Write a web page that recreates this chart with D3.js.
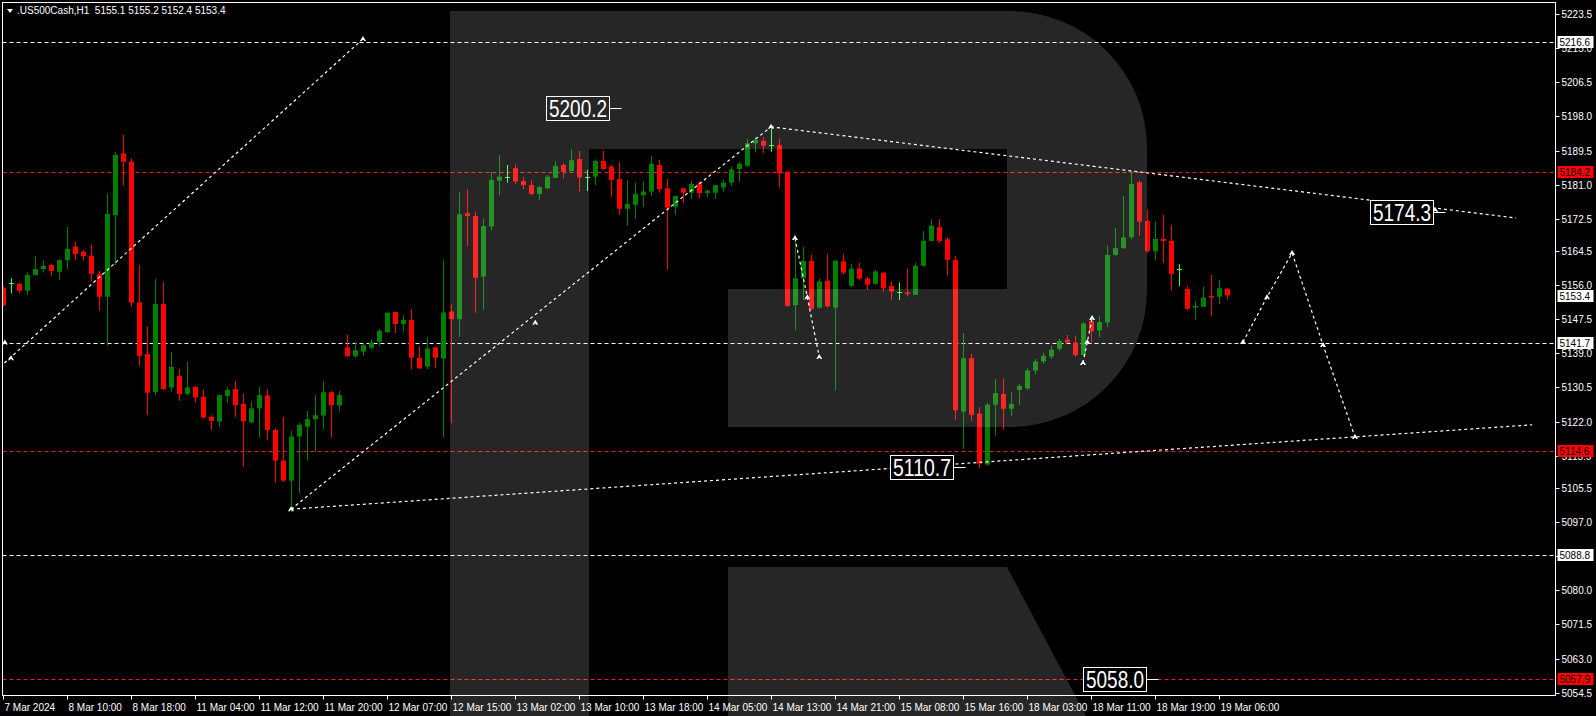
<!DOCTYPE html>
<html><head><meta charset="utf-8">
<script src="https://cdn.jsdelivr.net/npm/d3@7"></script>
<style>html,body{margin:0;padding:0;background:#000;overflow:hidden}svg{display:block}text{font-family:"Liberation Sans",Arial,sans-serif}</style>
</head><body>
<svg id="c" width="1596" height="716"></svg>
<script>
const opens=[5155.2,5156.4,5156.3,5154.6,5158.5,5160.0,5161.0,5159.3,5162.2,5165.6,5164.3,5163.3,5158.8,5153.1,5173.4,5188.8,5186.7,5151.7,5138.8,5129.4,5151.3,5130.5,5133.4,5128.9,5130.7,5128.2,5123.2,5122.0,5128.4,5130.1,5126.4,5121.8,5125.3,5128.5,5119.9,5112.3,5107.3,5118.3,5120.7,5122.6,5123.5,5129.3,5126.0,5140.5,5138.3,5139.4,5140.4,5141.9,5144.3,5149.3,5146.3,5147.3,5137.9,5135.7,5140.5,5137.7,5149.4,5147.5,5173.9,5173.2,5158.1,5170.6,5182.0,5183.0,5185.1,5181.9,5180.9,5178.7,5180.1,5182.7,5185.9,5184.4,5187.4,5183.0,5183.0,5186.9,5185.5,5182.4,5175.0,5176.0,5178.4,5179.3,5185.9,5180.1,5175.5,5180.1,5179.0,5181.3,5178.9,5179.0,5180.3,5181.5,5184.9,5185.7,5191.3,5191.9,5190.9,5190.9,5184.2,5151.0,5157.7,5162.0,5150.4,5157.1,5150.4,5161.9,5155.8,5160.1,5157.6,5156.3,5159.1,5155.8,5154.2,5154.2,5153.6,5160.8,5167.0,5170.4,5167.4,5162.3,5124.5,5137.8,5124.0,5111.3,5126.2,5128.9,5125.2,5129.9,5130.3,5134.7,5137.0,5138.2,5140.1,5142.4,5141.7,5138.6,5147.0,5144.7,5146.7,5163.5,5165.2,5167.9,5181.6,5172.0,5164.4,5167.5,5167.0,5160.1,5155.0,5150.4,5150.6,5153.3,5153.1,5155.1];
const highs=[5155.8,5157.7,5156.6,5159.2,5163.2,5162.2,5161.2,5162.4,5170.5,5166.8,5164.7,5166.0,5159.5,5178.8,5189.2,5193.4,5187.6,5161.0,5145.8,5157.5,5156.8,5139.4,5135.1,5136.9,5130.7,5130.0,5123.6,5128.6,5130.7,5132.1,5129.0,5127.0,5130.7,5130.0,5120.3,5123.2,5119.7,5121.7,5124.7,5128.6,5132.1,5129.6,5129.6,5143.6,5141.9,5141.5,5142.6,5145.1,5149.2,5149.3,5148.5,5150.0,5140.8,5143.0,5140.5,5162.4,5151.2,5179.1,5179.8,5174.3,5172.6,5184.2,5188.4,5185.9,5186.2,5183.0,5182.2,5180.7,5183.4,5186.9,5186.3,5189.8,5189.4,5184.7,5187.3,5189.4,5185.9,5186.6,5182.2,5181.5,5181.8,5188.2,5187.2,5182.4,5178.2,5180.1,5181.9,5181.9,5179.8,5180.9,5182.2,5185.5,5186.7,5192.5,5192.8,5192.8,5195.0,5192.5,5184.3,5167.2,5165.6,5163.5,5157.6,5163.8,5162.1,5163.8,5161.3,5161.6,5158.1,5159.8,5159.1,5156.9,5156.7,5160.1,5161.5,5169.4,5172.4,5172.4,5167.9,5163.3,5144.0,5138.9,5125.6,5126.6,5132.6,5132.8,5129.3,5131.4,5135.3,5137.6,5139.1,5140.9,5142.6,5143.6,5143.4,5146.8,5147.8,5148.4,5165.8,5170.2,5178.2,5184.3,5182.1,5174.8,5171.8,5173.5,5171.0,5161.2,5155.8,5151.9,5155.6,5158.5,5157.2,5155.2];
const lows=[5150.6,5153.9,5154.1,5153.5,5158.3,5159.1,5158.3,5157.3,5160.0,5162.2,5162.1,5156.9,5149.6,5140.9,5161.0,5180.7,5150.6,5135.9,5123.6,5128.6,5129.9,5129.5,5127.2,5128.6,5126.7,5122.8,5119.9,5120.7,5126.7,5123.2,5110.8,5121.6,5118.0,5117.3,5106.8,5107.0,5099.5,5104.1,5112.3,5114.5,5120.1,5118.0,5124.5,5138.0,5137.9,5138.3,5140.0,5140.8,5144.1,5144.0,5144.4,5135.0,5135.1,5135.1,5135.3,5118.0,5121.6,5143.1,5165.7,5149.1,5149.8,5169.6,5178.4,5181.5,5181.2,5179.9,5178.4,5177.2,5179.9,5182.6,5182.6,5184.2,5179.3,5179.4,5180.9,5184.7,5178.0,5173.5,5170.7,5172.5,5175.4,5178.2,5179.0,5159.8,5173.5,5176.4,5177.4,5177.6,5177.9,5177.4,5179.3,5180.7,5181.7,5185.5,5189.0,5188.8,5189.2,5180.3,5150.6,5144.8,5152.3,5149.8,5150.1,5150.4,5129.8,5158.6,5155.5,5157.3,5154.8,5156.1,5154.4,5152.2,5152.3,5153.2,5153.6,5160.6,5166.9,5166.5,5158.4,5122.5,5115.2,5122.1,5110.4,5111.0,5118.5,5120.0,5123.3,5126.2,5129.9,5133.7,5136.4,5137.6,5139.5,5141.5,5138.2,5138.2,5141.7,5143.0,5145.5,5163.3,5165.0,5167.4,5168.3,5164.0,5162.1,5161.5,5154.7,5155.7,5149.7,5147.4,5150.6,5148.3,5151.3,5152.4];
const closes=[5151.0,5156.4,5154.6,5158.5,5160.0,5160.8,5159.5,5162.2,5165.0,5163.7,5163.2,5158.8,5153.1,5173.7,5188.4,5186.7,5151.6,5138.4,5129.2,5151.3,5130.1,5135.6,5128.9,5130.5,5128.0,5123.0,5122.2,5128.6,5129.9,5126.1,5122.1,5125.3,5128.6,5119.9,5112.3,5107.3,5118.3,5121.2,5122.6,5123.6,5129.3,5126.1,5128.6,5138.3,5139.8,5141.1,5141.7,5144.6,5149.1,5146.3,5147.3,5137.9,5135.3,5140.2,5137.9,5149.2,5147.5,5173.6,5173.2,5157.8,5170.7,5182.2,5183.0,5183.0,5181.8,5180.9,5178.7,5180.4,5183.0,5185.7,5184.2,5187.1,5182.8,5183.0,5186.9,5184.9,5182.2,5175.0,5176.2,5178.7,5179.3,5186.2,5179.9,5175.3,5178.2,5179.0,5181.2,5178.9,5179.5,5180.9,5181.5,5184.8,5186.2,5191.3,5192.1,5190.7,5190.9,5183.8,5150.8,5157.7,5162.0,5150.1,5156.9,5150.7,5162.1,5159.1,5160.1,5157.6,5156.1,5159.4,5155.2,5154.4,5154.2,5153.8,5160.8,5167.0,5170.8,5167.0,5162.3,5124.8,5137.8,5123.7,5111.5,5126.2,5129.1,5125.2,5126.4,5130.9,5134.7,5137.0,5138.4,5139.9,5142.1,5141.7,5138.6,5146.4,5144.5,5146.8,5163.5,5165.2,5167.9,5181.2,5171.8,5164.4,5167.5,5167.0,5158.8,5160.1,5150.1,5150.8,5152.9,5152.9,5155.2,5153.4];
const dojiIdx=[1,63,73,96,112,147];
const timeLabels=["7 Mar 2024","8 Mar 10:00","8 Mar 18:00","11 Mar 04:00","11 Mar 12:00","11 Mar 20:00","12 Mar 07:00","12 Mar 15:00","13 Mar 02:00","13 Mar 10:00","13 Mar 18:00","14 Mar 05:00","14 Mar 13:00","14 Mar 21:00","15 Mar 08:00","15 Mar 16:00","18 Mar 03:00","18 Mar 11:00","18 Mar 19:00","19 Mar 06:00"];
const timeLabelIdx=timeLabels.map((d,k)=>k*8);
const priceTicks=["5223.5","5215.0","5206.5","5198.0","5189.5","5181.0","5172.5","5164.5","5156.0","5147.5","5139.0","5130.5","5122.0","5113.5","5105.5","5097.0","5088.5","5080.0","5071.5","5063.0","5054.5"];
const whiteLevels=[5216.6,5141.7,5088.8];
const redLevels=[5184.2,5114.6,5057.9];
const axisTags=[{v:"5216.6",c:"w"},{v:"5184.2",c:"r"},{v:"5153.4",c:"w"},{v:"5141.7",c:"w"},{v:"5114.6",c:"r"},{v:"5088.8",c:"w"},{v:"5057.9",c:"r"}];
const trendLines=[
 [[-0.41,5135.6],[44.96,5217.3]],
 [[35.96,5100.2],[95.96,5195.4]],
 [[95.96,5195.4],[189.1,5172.7]],
 [[35.96,5100.2],[191.1,5121.2]],
 [[98.96,5167.7],[100.5,5153.0],[102.0,5138.1]],
 [[134.96,5136.6],[135.5,5141.8],[136.1,5147.8]],
 [[154.96,5141.8],[157.96,5153.0],[161.1,5164.0],[164.96,5141.1],[168.96,5118.2]]
];
const markers=[[0.96,5137.8],[44.96,5217.3],[66.5,5146.6],[35.96,5100.2],[95.96,5195.4],[179.0,5174.7],[98.96,5167.7],[100.5,5153.0],[102.0,5138.1],[134.96,5136.6],[135.5,5141.8],[136.1,5147.8],[154.96,5141.8],[157.96,5153.0],[161.1,5164.0],[164.96,5141.1],[168.96,5118.2],[0.2,5141.7]];
const boxLabels=[{t:"5200.2",i:67.8,p:5200.2},{t:"5110.7",i:110.8,p:5110.7},{t:"5058.0",i:134.9,p:5057.9},{t:"5174.3",i:170.8,p:5174.3}];

const svg=d3.select("#c");
const L=2.5,T=2.5,R=1555.5,B=695.5;
const x=d3.scaleLinear().domain([0,153]).range([3.3,1227.3]);
const y=d3.scaleLinear().domain([5054.5,5223.5]).range([692.7,14]);
const plot=svg.append("g");
plot.append("defs").append("clipPath").attr("id","pc").append("rect").attr("x",L).attr("y",T).attr("width",R-L).attr("height",B-T);
const g=plot.append("g").attr("clip-path","url(#pc)");

whiteLevels.forEach(v=>g.append("line").attr("x1",L).attr("x2",R).attr("y1",Math.round(y(v))+0.5).attr("y2",Math.round(y(v))+0.5).attr("stroke","#fff").attr("stroke-dasharray","4,3"));
redLevels.forEach(v=>g.append("line").attr("x1",L).attr("x2",R).attr("y1",Math.round(y(v))+0.5).attr("y2",Math.round(y(v))+0.5).attr("stroke","#ff1a1a").attr("stroke-dasharray","4,3"));

const idx=d3.range(opens.length);
const dset=new Set(dojiIdx);
const col=i=>dset.has(i)?"#44ff44":(closes[i]>=opens[i]?"#008000":"#ff0000");
g.selectAll(".w").data(idx).join("line").attr("x1",i=>Math.round(x(i))+0.5).attr("x2",i=>Math.round(x(i))+0.5)
 .attr("y1",i=>y(highs[i])).attr("y2",i=>y(lows[i])).attr("stroke",col);
g.selectAll(".b").data(idx.filter(i=>!dset.has(i))).join("rect").attr("x",i=>Math.round(x(i))-2).attr("width",5)
 .attr("y",i=>y(Math.max(opens[i],closes[i]))).attr("height",i=>Math.max(1.5,Math.abs(y(opens[i])-y(closes[i])))).attr("fill",col);
g.selectAll(".d").data(dojiIdx).join("line").attr("x1",i=>Math.round(x(i))-2).attr("x2",i=>Math.round(x(i))+3)
 .attr("y1",i=>Math.round(y(opens[i]))+0.5).attr("y2",i=>Math.round(y(opens[i]))+0.5).attr("stroke","#44ff44");

const ln=d3.line().x(d=>x(d[0])).y(d=>y(d[1]));
trendLines.forEach(t=>g.append("path").attr("d",ln(t)).attr("fill","none").attr("stroke","#fff").attr("stroke-width",1.2).attr("stroke-dasharray","3,3"));
g.selectAll(".m").data(markers).join("path").attr("transform",d=>`translate(${x(d[0])},${y(d[1])})`)
 .attr("d","M-3,2 L0,-3 L3,2 L1,2 L1,1 L-1,1 L-1,2 Z").attr("fill","#fff");

boxLabels.forEach(b=>{
  const bx=Math.round(x(b.i))+0.5, by=Math.round(y(b.p))-11.5;
  g.append("line").attr("x1",bx+63).attr("x2",bx+75).attr("y1",by+12).attr("y2",by+12).attr("stroke","#fff");
  g.append("rect").attr("x",bx).attr("y",by).attr("width",63).attr("height",24).attr("fill","#000").attr("stroke","#fff");
  g.append("text").attr("x",bx+2.5).attr("y",by+20).attr("font-size",23).attr("fill","#fff").attr("textLength",58).attr("lengthAdjust","spacingAndGlyphs").text(b.t);
});

svg.append("path").attr("d","M450,11 H1010 A137,137 0 0 1 1147,148 V290 A137,137 0 0 1 1010,427 H728 V289 H1007 V149 H589 V716 H450 Z M728,567 H1007 L1086,716 H728 Z")
 .attr("fill","#fff").attr("fill-opacity",0.15);

svg.append("rect").attr("x",L).attr("y",T).attr("width",R-L).attr("height",B-T).attr("fill","none").attr("stroke","#fff");

const pa=svg.append("g");
priceTicks.forEach(t=>{const yy=Math.round(y(+t))+0.5;
 pa.append("line").attr("x1",R).attr("x2",R+4).attr("y1",yy).attr("y2",yy).attr("stroke","#fff");
 pa.append("text").attr("x",R+6).attr("y",yy+3.5).attr("font-size",10).attr("fill","#fff").text(t);});
axisTags.forEach(a=>{const yy=Math.round(y(+a.v));
 pa.append("rect").attr("x",R+2).attr("y",yy-6).attr("width",36).attr("height",12).attr("fill",a.c==="r"?"#ff0000":"#fff");
 pa.append("text").attr("x",R+4).attr("y",yy+4).attr("font-size",10).attr("fill","#000").text(a.v);});

const ta=svg.append("g");
timeLabelIdx.forEach((ix,k)=>{const xx=Math.round(x(ix))+0.5;
 ta.append("line").attr("x1",xx).attr("x2",xx).attr("y1",B).attr("y2",B+4).attr("stroke","#fff");
 ta.append("text").attr("x",xx+1).attr("y",B+15).attr("font-size",10).attr("fill","#fff").text(timeLabels[k]);});

svg.append("path").attr("d","M7,9 L13,9 L10,13 Z").attr("fill","#fff");
svg.append("text").attr("x",17).attr("y",14).attr("font-size",10).attr("fill","#fff").attr("xml:space","preserve").text(".US500Cash,H1  5155.1 5155.2 5152.4 5153.4");
</script></body></html>
